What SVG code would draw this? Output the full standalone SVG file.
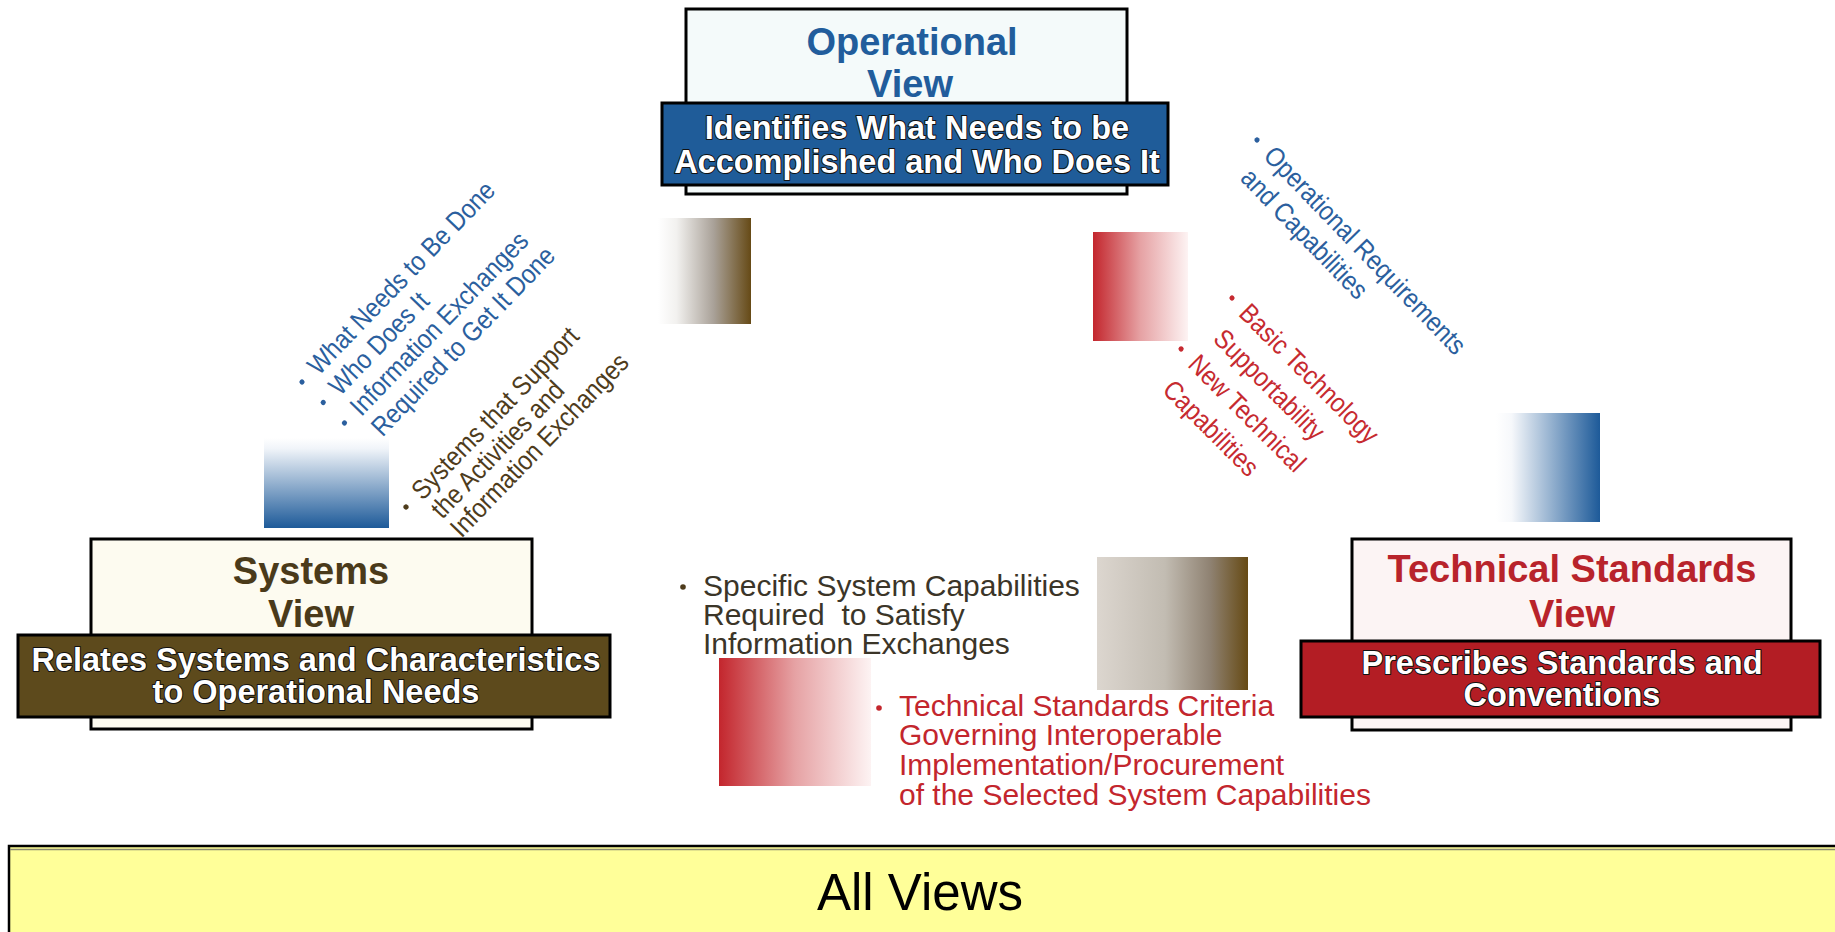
<svg xmlns="http://www.w3.org/2000/svg" width="1835" height="932" viewBox="0 0 1835 932">
<style>
text{font-family:"Liberation Sans",Arial,Helvetica,sans-serif}
.box{stroke:#000;stroke-width:3}
.title{font-size:38px;font-weight:bold;text-anchor:middle}
.ban{font-size:32.5px;font-weight:bold;fill:#fff;text-anchor:middle;stroke:#111;stroke-width:2;paint-order:stroke fill;stroke-linejoin:round}
.rot{font-size:27px}
.hz{font-size:30px}
.blue{fill:#2b5f9e}
.brown{fill:#4e3c1c}
.red{fill:#c62a30}
.dark{fill:#3b3528}
</style>
<defs>
<linearGradient id="gBrownA" x1="0" y1="0" x2="1" y2="0">
<stop offset="0" stop-color="#ffffff"/><stop offset="0.2" stop-color="#f2f1ef"/><stop offset="0.6" stop-color="#a9a198"/><stop offset="1" stop-color="#664a16"/>
</linearGradient>
<linearGradient id="gBrownB" x1="0" y1="0" x2="1" y2="0">
<stop offset="0" stop-color="#dcd6cf"/><stop offset="0.45" stop-color="#c2bcb2"/><stop offset="0.75" stop-color="#8f8272"/><stop offset="1" stop-color="#664a14"/>
</linearGradient>
<linearGradient id="gRed" x1="0" y1="0" x2="1" y2="0">
<stop offset="0" stop-color="#c3262d"/><stop offset="0.5" stop-color="#e6a2a4"/><stop offset="1" stop-color="#fdf3f3"/>
</linearGradient>
<linearGradient id="gBlueV" x1="0" y1="0" x2="0" y2="1">
<stop offset="0" stop-color="#ffffff"/><stop offset="0.12" stop-color="#f0f4f9"/><stop offset="1" stop-color="#1d5a99"/>
</linearGradient>
<linearGradient id="gBlueH" x1="0" y1="0" x2="1" y2="0">
<stop offset="0" stop-color="#ffffff"/><stop offset="0.15" stop-color="#f6f8fb"/><stop offset="1" stop-color="#1d5a99"/>
</linearGradient>
</defs>
<rect width="1835" height="932" fill="#fff"/>

<g id="connectors">
<rect x="658" y="218" width="93" height="106" fill="url(#gBrownA)"/>
<rect x="1093" y="232" width="95" height="109" fill="url(#gRed)"/>
<rect x="264" y="438" width="125" height="90" fill="url(#gBlueV)"/>
<rect x="1496" y="413" width="104" height="109" fill="url(#gBlueH)"/>
<rect x="1097" y="557" width="151" height="133" fill="url(#gBrownB)"/>
<rect x="719" y="658" width="152" height="128" fill="url(#gRed)"/>
</g>

<g id="op-view">
<rect class="box" x="686" y="9" width="441" height="185" fill="#f4fafa"/>
<text class="title" x="912" y="55" fill="#215d9c">Operational</text>
<text class="title" x="910" y="97" fill="#215d9c">View</text>
<rect class="box" x="662" y="103" width="506" height="82" fill="#1f5c99"/>
<text class="ban" x="917" y="139">Identifies What Needs to be</text>
<text class="ban" x="917" y="173">Accomplished and Who Does It</text>
</g>

<g id="sys-view">
<rect class="box" x="91" y="539" width="441" height="190" fill="#fdfbf0"/>
<text class="title" x="311" y="584" fill="#4a3a1a">Systems</text>
<text class="title" x="311" y="627" fill="#4a3a1a">View</text>
<rect class="box" x="18" y="635" width="592" height="82" fill="#5d4a1c"/>
<text class="ban" x="316" y="671">Relates Systems and Characteristics</text>
<text class="ban" x="316" y="703">to Operational Needs</text>
</g>

<g id="tech-view">
<rect class="box" x="1352" y="539" width="439" height="191" fill="#fcf4f4"/>
<text class="title" x="1572" y="582" fill="#b8232b">Technical Standards</text>
<text class="title" x="1572" y="627" fill="#b8232b">View</text>
<rect class="box" x="1301" y="641" width="519" height="76" fill="#b31d24"/>
<text class="ban" x="1562" y="674">Prescribes Standards and</text>
<text class="ban" x="1562" y="706">Conventions</text>
</g>

<g id="all-views">
<rect x="9" y="846" width="1830" height="90" fill="#ffff99" stroke="#000" stroke-width="2.5"/>
<line x1="10" y1="849.5" x2="1835" y2="849.5" stroke="#8a8a70" stroke-width="1.5"/>
<text x="920" y="910" font-size="51" text-anchor="middle" fill="#000">All Views</text>
</g>

<g id="op-to-sys-notes" transform="translate(302,382) rotate(-46)">
<circle cx="0" cy="0" r="2.6" class="blue"/>
<circle cx="0" cy="29.5" r="2.6" class="blue"/>
<circle cx="0" cy="59" r="2.6" class="blue"/>
<g transform="scale(0.88,1)" class="rot blue">
<text x="18" y="8">What Needs to Be Done</text>
<text x="18" y="37.5">Who Does It</text>
<text x="18" y="67">Information Exchanges</text>
<text x="18" y="96.5">Required to Get It Done</text>
</g>
</g>

<g id="sys-to-op-notes" transform="translate(406,507) rotate(-46)">
<circle cx="0" cy="0" r="2.6" class="brown"/>
<g transform="scale(0.88,1)" class="rot brown">
<text x="18" y="8">Systems that Support</text>
<text x="18" y="35">the Activities and</text>
<text x="18" y="62">Information Exchanges</text>
</g>
</g>

<g id="op-to-tech-notes" transform="translate(1257,140) rotate(46)">
<circle cx="0" cy="0" r="2.6" class="blue"/>
<g transform="scale(0.88,1)" class="rot blue">
<text x="18" y="8">Operational Requirements</text>
<text x="18" y="40">and Capabilities</text>
</g>
</g>

<g id="tech-to-op-notes" transform="translate(1232,298) rotate(45)">
<circle cx="0" cy="0" r="2.6" class="red"/>
<circle cx="0" cy="72" r="2.6" class="red"/>
<g transform="scale(0.88,1)" class="rot red">
<text x="18" y="8">Basic Technology</text>
<text x="18" y="44">Supportability</text>
<text x="18" y="80">New Technical</text>
<text x="18" y="116">Capabilities</text>
</g>
</g>

<g id="sys-to-tech-notes" class="hz">
<circle cx="683" cy="587" r="2.8" fill="#4e3c1c"/>
<text x="703" y="596" class="dark">Specific System Capabilities</text>
<text x="703" y="625" class="dark" xml:space="preserve">Required  to Satisfy</text>
<text x="703" y="654" class="dark">Information Exchanges</text>
</g>

<g id="tech-to-sys-notes" class="hz">
<circle cx="879" cy="708" r="2.8" fill="#c3262d"/>
<text x="899" y="716" fill="#c3262d">Technical Standards Criteria</text>
<text x="899" y="745" fill="#c3262d">Governing Interoperable</text>
<text x="899" y="775" fill="#c3262d">Implementation/Procurement</text>
<text x="899" y="805" fill="#c3262d">of the Selected System Capabilities</text>
</g>
</svg>
